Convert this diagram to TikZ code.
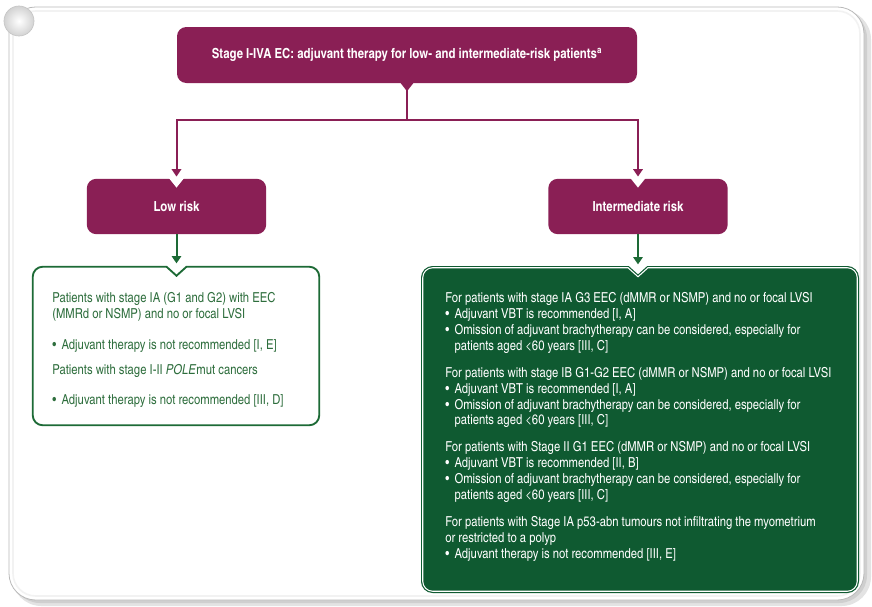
\documentclass[tikz,border=0pt]{standalone}
\usepackage{fontspec}
\setmainfont{texgyreheroscn}[Extension=.otf, UprightFont=*-regular, BoldFont=*-bold, ItalicFont=*-italic, BoldItalicFont=*-bolditalic]
\usetikzlibrary{calc,arrows.meta}

\definecolor{plum}{HTML}{8A1F55}
\definecolor{forest}{HTML}{0F5A31}
\definecolor{leaf}{HTML}{1D6A36}
\definecolor{leaftext}{HTML}{2E6E3D}

% bullet with hanging indent
\newcommand\bul{\makebox[7pt][l]{\textbullet}}
\newcommand\ind{\hspace*{7pt}}

% rounded box outline with a V cut at the notch coordinate #2
% #1 node, #2 notch coordinate, #3 corner radius, #4 half width, #5 depth
\newcommand\notchedoutline[5]{%
  ($(#1.north west)+(0,#3)$) arc[start angle=180,end angle=270,radius=#3]
  -- ($(#2)-(#4,0)$) -- ($(#2)+(0,#5)$) -- ($(#2)+(#4,0)$)
  -- ($(#1.north east)-(#3,0)$) arc[start angle=270,end angle=360,radius=#3]
  -- ($(#1.south east)-(0,#3)$) arc[start angle=0,end angle=90,radius=#3]
  -- ($(#1.south west)+(#3,0)$) arc[start angle=90,end angle=180,radius=#3]
  -- cycle}

\tikzset{
  titlebox/.style={fill=plum, rounded corners=7pt, text=white, inner sep=0pt,
    font=\bfseries\fontsize{10.4pt}{12pt}\selectfont,
    minimum width=345pt, minimum height=42pt},
  riskbox/.style={fill=plum, rounded corners=7pt, text=white, inner sep=0pt,
    font=\bfseries\fontsize{10.4pt}{12pt}\selectfont,
    minimum width=134.5pt, minimum height=41.5pt},
  frame/.style={inner sep=0pt, draw=none},
  bodytext/.style={inner sep=0pt, anchor=north west, align=left,
    font=\fontsize{10.3pt}{11.85pt}\selectfont},
  plumline/.style={draw=plum, line width=1.5pt},
  plumarrow/.style={plumline, -{Triangle[width=7pt,length=5.5pt]}, shorten >=1.5pt},
  leafarrow/.style={draw=leaf, line width=1.5pt, -{Triangle[width=7pt,length=5.5pt]}, shorten >=2.5pt},
}

\begin{document}
\begin{tikzpicture}[x=0.75pt,y=-0.75pt]
\useasboundingbox (0,0) rectangle (872,607);

% panel with soft shadow
\fill[white] (0,0) rectangle (872,607);
\fill[gray!22, rounded corners=22pt] (12,10) rectangle (871,606);
\fill[gray!38, rounded corners=21pt] (12,10) rectangle (867,603);
\fill[white, draw=gray!55, line width=0.6pt, rounded corners=20pt] (9,7) rectangle (864,600);
\draw[gray!10, line width=1.2pt, rounded corners=17pt] (13,11) rectangle (860,596);
\shade[inner color=white, outer color=gray!35, draw=gray!45, line width=0.5pt] (19,21) circle[radius=15];

% boxes
\node[titlebox] (title) at (407,55) {Stage I-IVA EC: adjuvant therapy for low- and intermediate-risk patients\textsuperscript{a}};
\node[riskbox] (low) at (176.5,206.5) {Low risk};
\node[riskbox] (mid) at (638,206.5) {Intermediate risk};
\node[frame, minimum width=214.5pt, minimum height=118.5pt] (lowbox) at (176,346) {};
\node[frame, minimum width=325.5pt, minimum height=242.25pt] (midbox) at (640,429.5) {};
\coordinate (lownotch) at (low.south |- lowbox.north);
\coordinate (midnotch) at (mid.south |- midbox.north);

% V cuts in the risk boxes and tab under the title
\fill[white] ($(low.north)+(-8,-1)$) -- ($(low.north)+(0,9)$) -- ($(low.north)+(8,-1)$) -- cycle;
\fill[white] ($(mid.north)+(-8,-1)$) -- ($(mid.north)+(0,9)$) -- ($(mid.north)+(8,-1)$) -- cycle;
\fill[plum] ($(title.south)+(-7,-1)$) -- ($(title.south)+(0,8)$) -- ($(title.south)+(7,-1)$) -- cycle;

% recommendation boxes
\path[fill=white, draw=leaf, line width=1.4pt] \notchedoutline{lowbox}{lownotch}{10}{10}{9};
\path[fill=forest, draw=forest, line width=0.9pt, double=white, double distance=0.8pt] \notchedoutline{midbox}{midnotch}{10}{10}{9};

% connectors
\coordinate (split) at ($(title.south)+(0,37)$);
\draw[plumline] ($(title.south)+(0,6)$) -- (split);
\draw[plumarrow] (split) -| (low.north);
\draw[plumarrow] (split) -| (mid.north);
\draw[leafarrow] (low.south) -- (lownotch);
\draw[leafarrow] (mid.south) -- (midnotch);

% texts
\node[bodytext, text=leaftext] (lowtext) at (52,292.5) {Patients with stage IA (G1 and G2) with EEC\\
(MMRd or NSMP) and no or focal LVSI\\[11pt]
\bul Adjuvant therapy is not recommended [I, E]\\[7.5pt]
Patients with stage I-II \textit{POLE}mut cancers\\[10pt]
\bul Adjuvant therapy is not recommended [III, D]};

\node[bodytext, text=white] (midtext) at (445,292.5) {For patients with stage IA G3 EEC (dMMR or NSMP) and no or focal LVSI\\
\bul Adjuvant VBT is recommended [I, A]\\
\bul Omission of adjuvant brachytherapy can be considered, especially for\\
\ind patients aged <60 years [III, C]\\[8.5pt]
For patients with stage IB G1-G2 EEC (dMMR or NSMP) and no or focal LVSI\\
\bul Adjuvant VBT is recommended [I, A]\\
\bul Omission of adjuvant brachytherapy can be considered, especially for\\
\ind patients aged <60 years [III, C]\\[8.5pt]
For patients with Stage II G1 EEC (dMMR or NSMP) and no or focal LVSI\\
\bul Adjuvant VBT is recommended [II, B]\\
\bul Omission of adjuvant brachytherapy can be considered, especially for\\
\ind patients aged <60 years [III, C]\\[8.5pt]
For patients with Stage IA p53-abn tumours not infiltrating the myometrium\\
or restricted to a polyp\\
\bul Adjuvant therapy is not recommended [III, E]};
\end{tikzpicture}
\end{document}
